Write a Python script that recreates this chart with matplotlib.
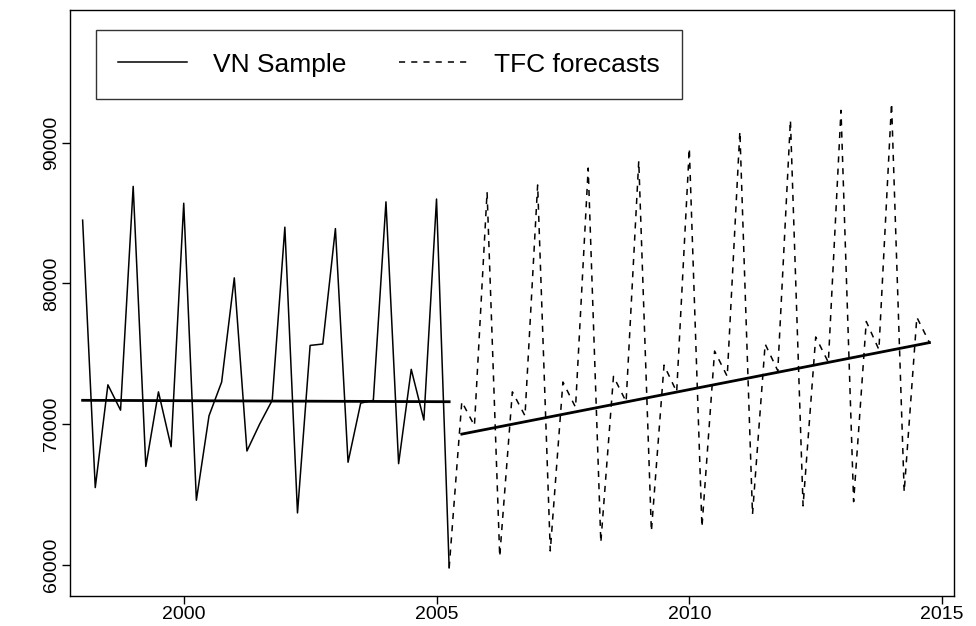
import numpy as np
import matplotlib.pyplot as plt

plt.rcParams['font.family'] = ['Liberation Sans', 'DejaVu Sans']

# quarterly sample, 1998Q1 .. 2005Q2
sample_start = 1998.0
sample_vals = [84.5, 65.5, 72.8, 71.0, 86.9, 67.0, 72.3, 68.4, 85.7, 64.6,
               70.6, 73.0, 80.4, 68.1, 70.0, 71.7, 84.0, 63.7, 75.6, 75.7,
               83.9, 67.3, 71.5, 71.7, 85.8, 67.2, 73.9, 70.3, 86.0, 59.8]

# forecasts 2005Q2 .. 2014Q4
fc_start = 2005.25
fc_vals = [59.8, 71.6, 69.9,
           86.5, 60.6, 72.3, 70.6,
           87.0, 61.0, 73.0, 71.2,
           88.2, 61.6, 73.4, 71.6,
           88.7, 62.4, 74.2, 72.3,
           89.6, 62.7, 75.2, 73.4,
           90.8, 63.6, 75.7, 73.8,
           91.6, 64.2, 76.2, 74.4,
           92.3, 64.5, 77.3, 75.3,
           92.8, 65.2, 77.6, 75.8]

# trend lines (start/end)
trend_sample_x = [1998.0, 2005.25]
trend_sample_y = [71.7, 71.6]
trend_fc_x = [2005.5, 2014.75]
trend_fc_y = [69.3, 75.8]

sx = sample_start + 0.25 * np.arange(len(sample_vals))
fx = fc_start + 0.25 * np.arange(len(fc_vals))

fig = plt.figure(figsize=(9.76, 6.26), dpi=100)
ax = fig.add_axes([0.0717, 0.048, 0.906, 0.936])

ax.plot(sx, np.array(sample_vals) * 1000, color='black', lw=1.1, label='VN Sample')
ax.plot(fx, np.array(fc_vals) * 1000, color='black', lw=1.1, ls=(0, (4, 4)), label='TFC forecasts')
ax.plot(trend_sample_x, np.array(trend_sample_y) * 1000, color='black', lw=2)
ax.plot(trend_fc_x, np.array(trend_fc_y) * 1000, color='black', lw=2)

ax.set_xlim(1997.75, 2015.24)
ax.set_ylim(57800, 99430)
ax.set_xticks([2000, 2005, 2010, 2015])
ax.set_yticks([60000, 70000, 80000, 90000])
ax.tick_params(labelsize=14, length=6, width=1, pad=1)
for lab in ax.get_yticklabels():
    lab.set_rotation(90)
    lab.set_va('center')
for s in ax.spines.values():
    s.set_linewidth(1)

leg = ax.legend(loc='upper left', bbox_to_anchor=(0.014, 0.988), ncol=2, fontsize=19,
                frameon=True, fancybox=False, edgecolor='black', handlelength=2.6,
                columnspacing=2.0, borderpad=0.85, handletextpad=1.0)
leg.get_frame().set_linewidth(1)

fig.savefig('out.png', dpi=100)
